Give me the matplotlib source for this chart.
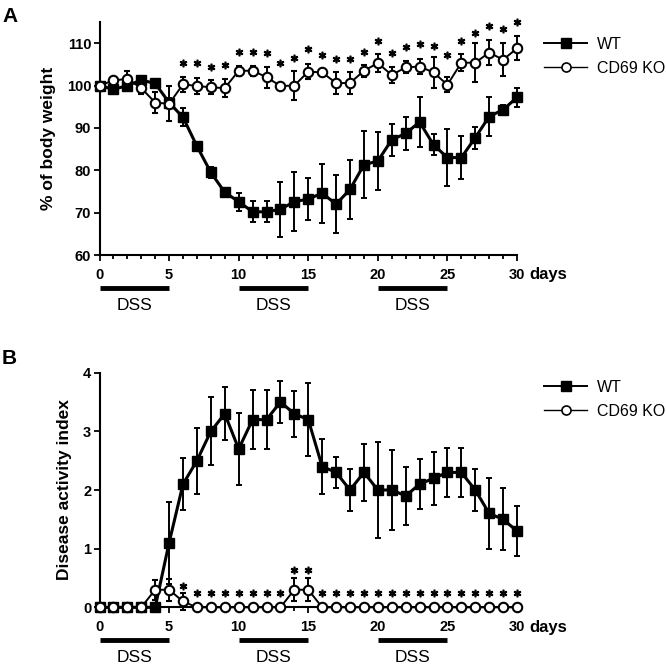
import matplotlib
matplotlib.use("Agg")
import matplotlib.pyplot as plt
from matplotlib.ticker import MultipleLocator
from matplotlib.lines import Line2D

plt.rcParams['font.family'] = ['Liberation Sans', 'DejaVu Sans']

days = list(range(31))

# Panel A: % of body weight
wt_weight = [100, 99.1, 100, 101.3, 100.5, 96.0, 92.5, 85.7, 79.5, 74.8, 72.6, 70.2, 70.2,
             70.8, 72.6, 73.2, 74.6, 72.0, 75.5, 81.3, 82.2, 87.2, 88.7, 91.4, 86.0, 83.0,
             83.0, 87.7, 92.7, 94.3, 97.2]
wt_weight_err = [0.4, 0.5, 0.5, 0.8, 1.0, 1.0, 2.1, 1.0, 1.3, 0.5, 2.1, 2.5, 2.5, 6.5, 7.0,
                 4.9, 7.0, 6.9, 6.9, 7.9, 6.9, 3.8, 3.8, 6.0, 2.5, 6.7, 5.1, 2.6, 4.6, 1.2, 2.2]
ko_weight = [100, 101.2, 101.6, 99.4, 96.0, 95.7, 100.3, 99.9, 99.6, 99.4, 103.5, 103.5, 102.0,
             99.9, 100.0, 103.3, 103.1, 100.6, 100.6, 103.5, 105.3, 102.5, 104.3, 104.5, 103.1,
             100.2, 105.4, 105.4, 107.8, 106.1, 108.8]
ko_weight_err = [0.3, 0.5, 1.9, 1.4, 2.4, 4.1, 1.8, 1.8, 1.7, 2.2, 1.2, 1.2, 2.5, 0.5, 3.4, 1.8,
                 0.5, 2.6, 2.6, 1.4, 2.1, 1.8, 1.4, 1.7, 3.7, 1.8, 2.0, 4.6, 3.0, 3.9, 2.8]
weight_star_days = list(range(6, 31))
weight_star_y = [105.3, 105.3, 104.5, 104.9, 108.0, 108.0, 107.7, 105.3, 106.5, 108.6, 107.2,
                 106.2, 106.2, 108.0, 110.6, 107.8, 109.1, 109.8, 109.4, 107.2, 110.6, 112.4,
                 114.1, 113.3, 114.9]

# Panel B: disease activity index
wt_dai = [0, 0, 0, 0, 0, 1.1, 2.1, 2.5, 3.0, 3.3, 2.7, 3.2, 3.2, 3.5, 3.3, 3.2, 2.4, 2.3, 2.0,
          2.3, 2.0, 2.0, 1.9, 2.1, 2.2, 2.3, 2.3, 2.0, 1.6, 1.5, 1.3]
wt_dai_err = [0, 0, 0, 0, 0, 0.7, 0.44, 0.56, 0.58, 0.45, 0.62, 0.5, 0.5, 0.35, 0.39, 0.62,
              0.47, 0.26, 0.36, 0.49, 0.82, 0.68, 0.49, 0.43, 0.45, 0.42, 0.42, 0.36, 0.6,
              0.53, 0.43]
ko_dai = [0, 0, 0, 0, 0.3, 0.3, 0.1, 0, 0, 0, 0, 0, 0, 0, 0.3, 0.3, 0, 0, 0, 0, 0, 0, 0, 0,
          0, 0, 0, 0, 0, 0, 0]
ko_dai_err = [0, 0, 0, 0, 0.17, 0.19, 0.14, 0, 0, 0, 0, 0, 0, 0, 0.2, 0.2, 0, 0, 0, 0, 0, 0,
              0, 0, 0, 0, 0, 0, 0, 0, 0]
dai_star_days = list(range(6, 31))
dai_star_y = [0.36] + [0.24] * 7 + [0.63, 0.63] + [0.24] * 15

dss_periods = [(0, 5), (10, 15), (20, 25)]
series_labels = ["WT", "CD69 KO"]

fig = plt.figure(figsize=(6.66, 6.66), dpi=100)
axA = fig.add_axes([0.1494, 0.6171, 0.6269, 0.3498])
axB = fig.add_axes([0.1494, 0.0881, 0.6269, 0.3523])

tick_fs = 10.5
label_fs = 12.5


def draw_panel(ax, wt, wt_err, ko, ko_err, star_x, star_y, ylim, ystep, ylabel, legend_y):
    ax.errorbar(days, wt, yerr=wt_err, color='black', lw=2.2, marker='s', ms=7.5,
                mfc='black', mec='black', ecolor='black', elinewidth=1.4, capsize=2.3,
                capthick=1.4, clip_on=False, zorder=3)
    ax.errorbar(days, ko, yerr=ko_err, color='black', lw=1.4, marker='o', ms=6.8,
                mfc='white', mec='black', mew=1.5, ecolor='black', elinewidth=1.4,
                capsize=2.3, capthick=1.4, clip_on=False, zorder=4)
    ax.plot(star_x, star_y, ls='none', marker=r'$\ast$', ms=4.8, color='black',
            clip_on=False, zorder=5)
    ax.set_xlim(0, 30)
    ax.set_ylim(*ylim)
    ax.xaxis.set_major_locator(MultipleLocator(5))
    ax.xaxis.set_minor_locator(MultipleLocator(1))
    ax.yaxis.set_major_locator(MultipleLocator(ystep))
    for s in ['top', 'right']:
        ax.spines[s].set_visible(False)
    for s in ['left', 'bottom']:
        ax.spines[s].set_linewidth(1.5)
    ax.tick_params(axis='x', which='major', length=4, width=1.3, pad=5, labelsize=tick_fs)
    ax.tick_params(axis='x', which='minor', length=3, width=1.3)
    ax.tick_params(axis='y', which='major', length=4, width=1.3, pad=2, labelsize=tick_fs)
    for t in ax.get_xticklabels() + ax.get_yticklabels():
        t.set_fontweight('bold')
    ax.set_ylabel(ylabel, fontsize=label_fs, fontweight='bold', labelpad=8)
    ax.text(1.03, -0.085, "days", transform=ax.transAxes, fontsize=12,
            fontweight='bold', ha='left', va='center')
    trans = ax.get_xaxis_transform()
    for (a, b) in dss_periods:
        ax.plot([a, b], [-0.14, -0.14], transform=trans, color='black', lw=3.5,
                solid_capstyle='butt', clip_on=False)
        ax.text((a + b) / 2, -0.215, "DSS", transform=trans, fontsize=12.5,
                ha='center', va='center')
    handles = [
        Line2D([], [], color='black', lw=1.4, marker='s', ms=6.5, mfc='black', mec='black'),
        Line2D([], [], color='black', lw=1.0, marker='o', ms=6.5, mfc='white', mec='black',
               mew=1.2),
    ]
    ax.legend(handles, series_labels, loc='upper left', bbox_to_anchor=(544 / 666, legend_y),
              bbox_transform=fig.transFigure, frameon=False, fontsize=11.5,
              handlelength=2.7, handletextpad=0.6, labelspacing=0.55,
              borderaxespad=0, borderpad=0)


draw_panel(axA, wt_weight, wt_weight_err, ko_weight, ko_weight_err, weight_star_days,
           weight_star_y, (60, 115), 10, "% of body weight", 1 - 37 / 666)
draw_panel(axB, wt_dai, wt_dai_err, ko_dai, ko_dai_err, dai_star_days, dai_star_y,
           (0, 4), 1, "Disease activity index", 1 - 380 / 666)

fig.text(2 / 666, 1 - 17 / 666, "A", fontsize=15, fontweight='bold', ha='left', va='center')
fig.text(2 / 666, 1 - 358 / 666, "B", fontsize=15, fontweight='bold', ha='left', va='center')

fig.savefig("out.png", dpi=100)
